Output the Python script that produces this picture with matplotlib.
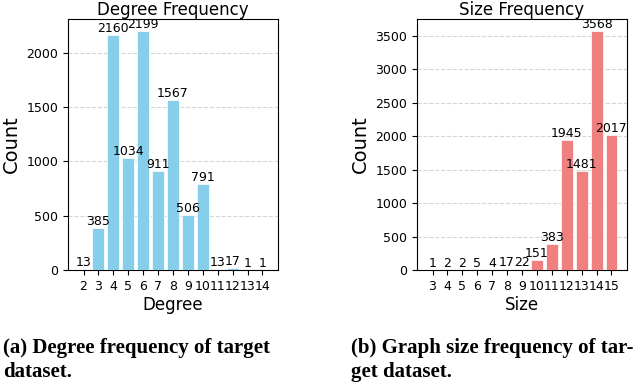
import matplotlib
matplotlib.use("Agg")
import matplotlib.pyplot as plt

degrees = [2, 3, 4, 5, 6, 7, 8, 9, 10, 11, 12, 13, 14]
degree_counts = [13, 385, 2160, 1034, 2199, 911, 1567, 506, 791, 13, 17, 1, 1]
sizes = [3, 4, 5, 6, 7, 8, 9, 10, 11, 12, 13, 14, 15]
size_counts = [1, 2, 2, 5, 4, 17, 22, 151, 383, 1945, 1481, 3568, 2017]

fig = plt.figure(figsize=(6.4, 3.85), dpi=100)
ax1 = fig.add_axes([68/640, 1-270/385, 210/640, 251/385])
ax2 = fig.add_axes([417/640, 1-270/385, 210/640, 251/385])

def draw(ax, xs, ys, color, title, xlabel):
    ax.bar(xs, ys, color=color, width=0.8, edgecolor="white", linewidth=0.5, zorder=3)
    for x, y in zip(xs, ys):
        ax.text(x, y, str(y), ha="center", va="bottom", fontsize=9, zorder=4)
    ax.set_xticks(xs)
    ax.set_xticklabels([str(x) for x in xs], fontsize=9)
    ax.tick_params(axis="y", labelsize=9)
    ax.set_title(title, fontsize=12, pad=1)
    ax.set_xlabel(xlabel, fontsize=12, labelpad=2)
    ax.set_ylabel("Count", fontsize=14)
    ax.yaxis.grid(True, linestyle="--", color="#cccccc", alpha=0.8, zorder=0)
    ax.set_axisbelow(True)

draw(ax1, degrees, degree_counts, "skyblue", "Degree Frequency", "Degree")
draw(ax2, sizes, size_counts, "lightcoral", "Size Frequency", "Size")

cap_font = dict(family=["Liberation Serif", "DejaVu Serif"], fontweight="bold", fontsize=15)
fig.text(3/640, 1-348/385, "(a) Degree frequency of target", va="center", ha="left", **cap_font)
fig.text(3/640, 1-372/385, "dataset.", va="center", ha="left", **cap_font)
fig.text(351/640, 1-348/385, "(b) Graph size frequency of tar-", va="center", ha="left", **cap_font)
fig.text(351/640, 1-372/385, "get dataset.", va="center", ha="left", **cap_font)

fig.savefig("out.png", dpi=100)
